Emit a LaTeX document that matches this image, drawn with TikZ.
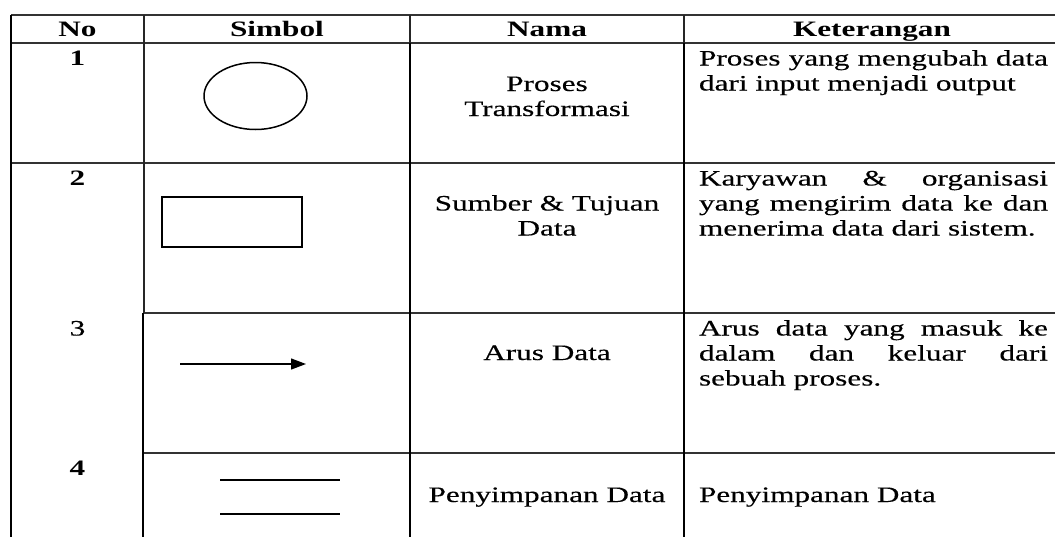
\documentclass[tikz,border=0pt]{standalone}
\usepackage{fontspec}
\setmainfont{Liberation Serif}[FakeStretch=1.42, UprightFeatures={FakeBold=0.3}]
\usetikzlibrary{arrows.meta,shapes.geometric}
\tikzset{
  txt/.style={inner sep=0pt, outer sep=0pt, font=\fontsize{22}{25}\selectfont},
  hdr/.style={inner sep=0pt, outer sep=0pt, font=\fontsize{22}{25}\selectfont\bfseries, anchor=base},
  num/.style={hdr},
  namecell/.style={txt, anchor=base, align=center},
  desccell/.style={txt, anchor=base west, text width=349pt, align=justify},
  hrule/.style={line width=1.4pt, draw=black!80},
  vthin/.style={line width=1.4pt, draw=black!85},
  vthick/.style={line width=2.2pt, draw=black},
  symline/.style={line width=1.5pt, draw=black},
}
\begin{document}
\begin{tikzpicture}[x=1pt,y=-1pt]
\useasboundingbox (0,0) rectangle (1055,536);
\fill[white] (0,0) rectangle (1055,536);
\clip (0,0) rectangle (1055,536);

% grid
\draw[hrule] (11,15) -- (1062,15);
\draw[hrule] (11,43) -- (1062,43);
\draw[hrule] (11,163) -- (1062,163);
\draw[hrule] (143,313) -- (1062,313);
\draw[hrule] (143,453) -- (1062,453);
\draw[line width=1.8pt] (11,15) -- (11,540);
\draw[vthin] (144,15) -- (144,313);
\draw[vthick] (143,313) -- (143,540);
\draw[vthin] (410,15) -- (410,43);
\draw[vthick] (410,43) -- (410,540);
\draw[vthin] (684,15) -- (684,43);
\draw[vthick] (684,43) -- (684,540);

% header
\node[hdr] (hno)  at (77.5,36.5) {No};
\node[hdr] (hsim) at (277,36.5) {Simbol};
\node[hdr] (hnam) at (547,36.5) {Nama};
\node[hdr] (hket) at (872,36.5) {Keterangan};

% numbers
\node[num] (n1) at (77.5,65.5) {1};
\node[num] (n2) at (77.5,185.5) {2};
\node[txt, anchor=base] (n3) at (77.5,335.5) {3};
\node[num] (n4) at (77.5,475.5) {4};

% symbols
\node[draw, ellipse, symline, minimum width=103pt, minimum height=67pt, inner sep=0pt] (proc) at (255.5,96) {};
\node[draw, rectangle, line width=2pt, minimum width=140pt, minimum height=50pt, inner sep=0pt] (ent) at (232,222) {};
\coordinate (fa) at (180,364);
\coordinate (fb) at (306,364);
\draw[line width=1.3pt, -{Triangle[length=15pt,width=11pt]}] (fa) -- (fb);
\coordinate (sa1) at (220,480);
\coordinate (sb1) at (340,480);
\coordinate (sa2) at (220,514);
\coordinate (sb2) at (340,514);
\draw[line width=1.2pt] (sa1) -- (sb1);
\draw[line width=2pt] (sa2) -- (sb2);

% names (base anchor = last line)
\node[namecell] (nm1) at (547,116) {Proses\\Transformasi};
\node[namecell] (nm2) at (547,235.5) {Sumber \& Tujuan\\Data};
\node[namecell] (nm3) at (547,360) {Arus Data};
\node[namecell] (nm4) at (547,502) {Penyimpanan Data};

% descriptions
\node[desccell] (d1) at (699,65.5) {\noindent Proses yang mengubah data\linebreak dari input menjadi output};
\node[desccell] (d2) at (699,185.5) {\noindent Karyawan \& organisasi\linebreak yang mengirim data ke dan\linebreak menerima data dari sistem.};
\node[desccell] (d3) at (699,335.5) {\noindent Arus data yang masuk ke\linebreak dalam dan keluar dari\linebreak sebuah proses.};
\node[desccell] (d4) at (699,502) {\noindent Penyimpanan Data};
\end{tikzpicture}
\end{document}
